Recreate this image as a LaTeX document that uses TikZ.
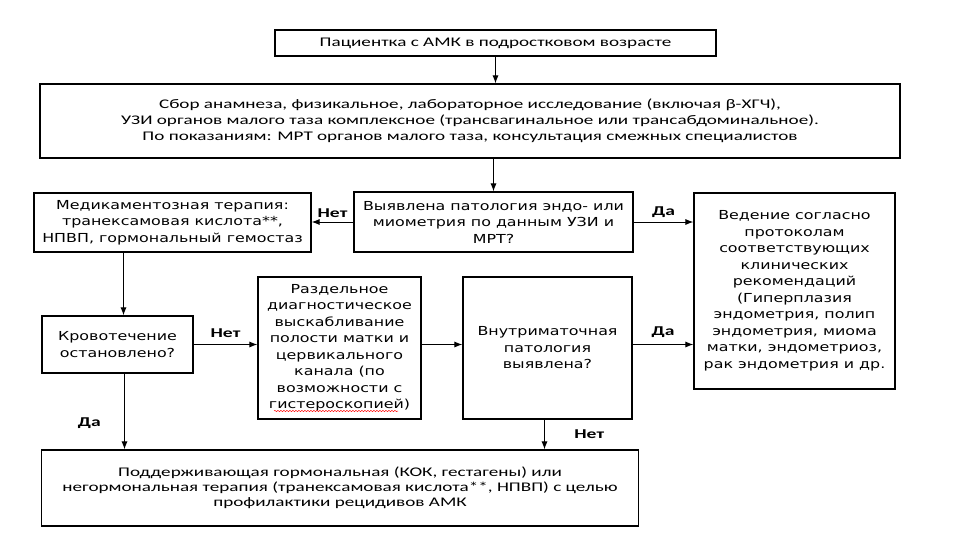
\documentclass[tikz,border=0pt]{standalone}
\usepackage{fontspec}
\usepackage{tikz}
\usetikzlibrary{arrows.meta, calc, decorations.pathmorphing}
\newfontfamily\calib[FakeStretch=1.45]{Carlito}
\newfontfamily\dejav[FakeStretch=1.28]{DejaVu Sans}

\tikzset{
	box/.style={draw, line width=1.1pt, align=center, inner sep=2pt},
	topbox/.style={box, font=\calib\fontsize{13.2}{16}\selectfont},
	midbox/.style={box, font=\dejav\fontsize{12.4}{16.5}\selectfont},
	lbl/.style={font=\calib\bfseries\fontsize{13.5}{15}\selectfont},
	arr/.style={-{Latex[length=8pt,width=6pt]}, line width=1pt}
}

\begin{document}
\begin{tikzpicture}[x=1pt, y=-1pt]
	\fill[white] (0,0) rectangle (974,535);
	\useasboundingbox (0,0) rectangle (974,535);
	
	% boxes
	\node[topbox, minimum width=441pt, minimum height=26pt] (pac) at (495.5,43) {Пациентка с АМК в подростковом возрасте};
	\node[topbox, minimum width=860pt, minimum height=74pt] (sbor) at (470,121) {Сбор анамнеза, физикальное, лабораторное исследование (включая β-ХГЧ),\\УЗИ органов малого таза комплексное (трансвагинальное или трансабдоминальное).\\По показаниям: МРТ органов малого таза, консультация смежных специалистов};
	\node[midbox, minimum width=277pt, minimum height=59pt] (med) at (172.5,222.5) {Медикаментозная терапия:\\транексамовая кислота**,\\НПВП, гормональный гемостаз};
	\node[midbox, minimum width=279pt, minimum height=60pt] (vyyav) at (493.5,222) {Выявлена патология эндо- или\\миометрия по данным УЗИ и\\МРТ?};
	\node[midbox, minimum width=201pt, minimum height=196pt] (veden) at (794.5,291) {Ведение согласно\\протоколам\\соответствующих\\клинических\\рекомендаций\\(Гиперплазия\\эндометрия, полип\\эндометрия, миома\\матки, эндометриоз,\\рак эндометрия и др.};
	\node[midbox, minimum width=151pt, minimum height=57pt] (krov) at (117.5,344.5) {Кровотечение\\остановлено?};
	\node[midbox, minimum width=163pt, minimum height=142pt] (razd) at (339.5,348) {Раздельное\\диагностическое\\выскабливание\\полости матки и\\цервикального\\канала (по\\возможности с\\гистероскопией)};
	\node[midbox, minimum width=169pt, minimum height=142pt] (vnutr) at (547.5,348) {Внутриматочная\\патология\\выявлена?};
	\node[topbox, font=\calib\fontsize{13.2}{15.2}\selectfont, minimum width=597pt, minimum height=76pt] (podd) at (340,488) {Поддерживающая гормональная (КОК, гестагены) или\\негормональная терапия (транексамовая кислота**, НПВП) с целью\\профилактики рецидивов АМК};
	
	% spell-check mark
	\draw[red, line width=0.5pt, decorate, decoration={snake, amplitude=0.6pt, segment length=3pt}] (274,411) -- (398,411);
	
	% arrows
	\draw[arr] (pac.south) -- (pac.south |- sbor.north);
	\draw[arr] (sbor.south -| vyyav.north) -- (vyyav.north);
	\draw[arr] (vyyav.west) -- (vyyav.west -| med.east) node[lbl, midway, above=1pt] {Нет};
	\draw[arr] (vyyav.east) -- (vyyav.east -| veden.west) node[lbl, midway, above=1pt] {Да};
	\draw[arr] ([xshift=6pt]krov.north |- med.south) -- ([xshift=6pt]krov.north);
	\draw[arr] (krov.east) -- (krov.east -| razd.west) node[lbl, midway, above=3pt] {Нет};
	\draw[arr] (razd.east |- krov.east) -- (vnutr.west |- krov.east);
	\draw[arr] (vnutr.east |- krov.east) -- (veden.west |- krov.east) node[lbl, midway, above=3pt] {Да};
	\draw[arr] ([xshift=7pt]krov.south) -- ([xshift=7pt]krov.south |- podd.north) node[lbl, pos=0.65, left=20pt] {Да};
	\draw[arr] ([xshift=-3pt]vnutr.south) -- ([xshift=-3pt]vnutr.south |- podd.north) node[lbl, midway, right=26pt] {Нет};
\end{tikzpicture}
\end{document}
